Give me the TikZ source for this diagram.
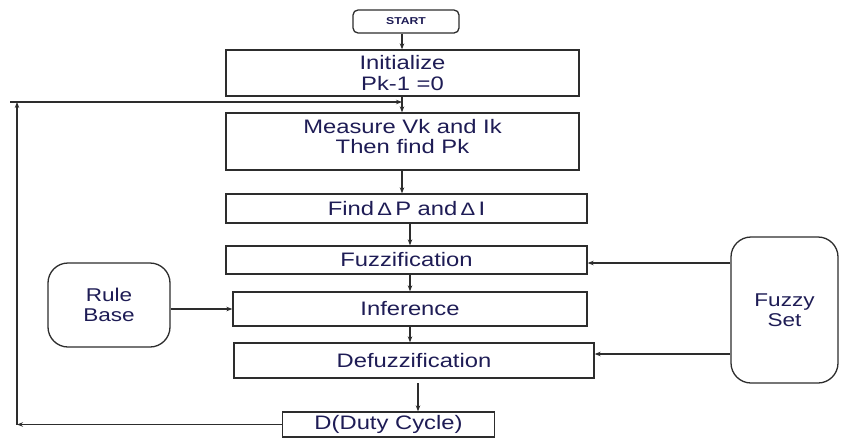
\documentclass[tikz,border=0pt]{standalone}
\usepackage{fontspec}
\setmainfont{Liberation Sans}[FakeStretch=1.22]
\usetikzlibrary{arrows.meta}
\definecolor{txt}{RGB}{30,28,85}
\definecolor{ln}{RGB}{45,45,45}
\tikzset{
  box/.style={draw=ln, line width=1.3pt, rectangle, inner sep=0pt, text=txt, align=center,
     font=\fontsize{19.5}{20.5}\selectfont},
  rbox/.style={box, rounded corners=20pt, font=\fontsize{18.5}{20}\selectfont},
  arr/.style={draw=ln, line width=1.1pt, -{Stealth[length=6pt,width=4.5pt]}},
  ln/.style={draw=ln, line width=1.1pt}
}
\begin{document}
\begin{tikzpicture}[x=1pt,y=-1pt]
\useasboundingbox (0,0) rectangle (842,439);
\node[box, rounded corners=5pt, minimum width=106pt, minimum height=23pt, font=\bfseries\fontsize{10}{12}\selectfont] (start) at (406,21.5) {START};
\node[box, minimum width=353pt, minimum height=46pt] (init) at (402.5,73) {Initialize\\Pk-1 =0};
\node[box, minimum width=353pt, minimum height=57pt] (meas) at (402.5,141.5) {};
\node[text=txt, align=center, font=\fontsize{19.5}{20}\selectfont] (meastxt) at (402.5,137) {Measure Vk and Ik\\Then find Pk};
\node[box, minimum width=361pt, minimum height=29pt] (find) at (406.5,208.5) {Find\,{\fontsize{18}{18}\selectfont Δ}\,P and\,{\fontsize{18}{18}\selectfont Δ}\,I};
\node[box, minimum width=361pt, minimum height=28pt] (fuzz) at (406.5,260) {Fuzzification};
\node[box, minimum width=354pt, minimum height=34pt] (inf) at (410,309) {Inference};
\node[box, minimum width=360pt, minimum height=35pt] (defuzz) at (414,360.5) {Defuzzification};
\node[box, minimum width=212pt, minimum height=25pt] (duty) at (388.5,424.5) {D(Duty Cycle)};
\node[rbox, minimum width=122pt, minimum height=84pt] (rule) at (109,305) {Rule\\Base};
\node[rbox, minimum width=107pt, minimum height=146pt] (fset) at (784.5,310) {Fuzzy\\Set};
\coordinate (c1) at (17,424.5);
\coordinate (c2) at (17,102);
\coordinate (c3) at (10,102);
\coordinate (c4) at (402,102);
\draw[arr] (start.south -| c4) -- (init.north -| c4);
\draw[arr] (init.south -| c4) -- (meas.north -| c4);
\draw[arr] (meas.south -| c4) -- (find.north -| c4);
\draw[arr] (find.south -| 410,0) -- (fuzz.north -| 410,0);
\draw[arr] (fuzz.south -| 410,0) -- (inf.north -| 410,0);
\draw[arr] (inf.south -| 410,0) -- (defuzz.north -| 410,0);
\draw[arr] (418,383) -- (duty.north -| 418,0);
\draw[arr] (rule.east |- inf.west) -- (inf.west);
\draw[arr] (fset.west |- 0,263) -- (fuzz.east |- 0,263);
\draw[arr] (fset.west |- 0,354) -- (defuzz.east |- 0,354);
\draw[arr] (duty.west) -- (c1);
\draw[arr] (c1) -- (c2);
\draw[arr] (c3) -- (c4);
\end{tikzpicture}
\end{document}
